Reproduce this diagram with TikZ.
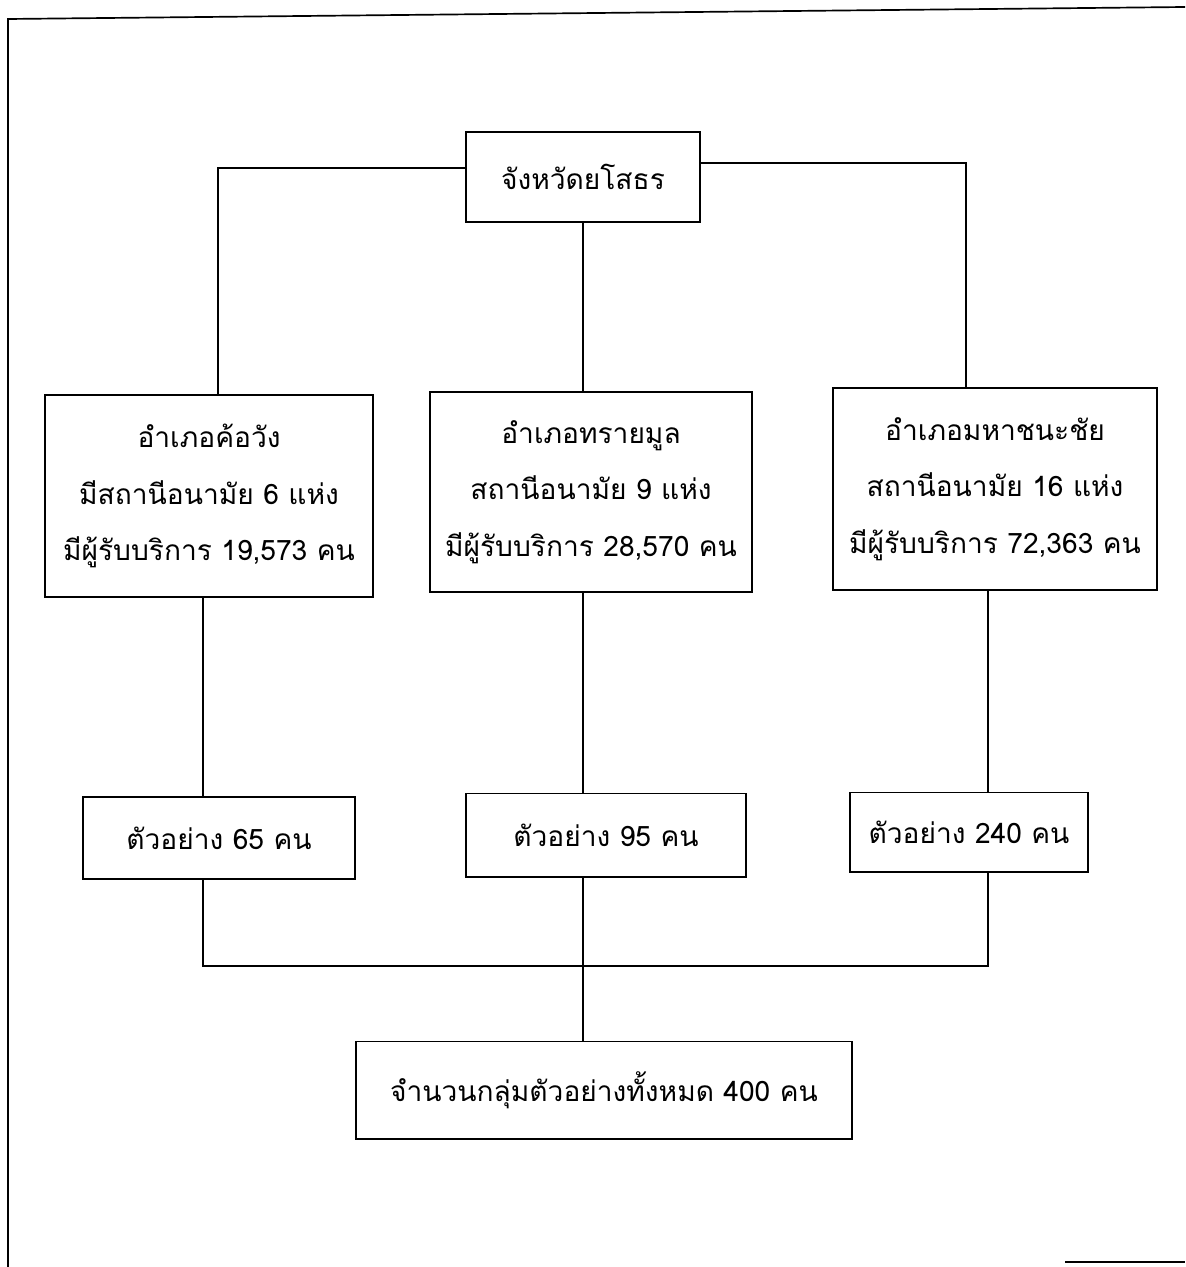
\documentclass[tikz,border=0pt]{standalone}
\usepackage{fontspec}
\newfontfamily\thaifont[Script=Thai]{Loma}
\usetikzlibrary{positioning}

\begin{document}
\begin{tikzpicture} [
						x=0.025cm, y=-0.025cm,
						font=\thaifont\fontsize{20}{40}\selectfont,
						box/.style={draw, line width=1.4pt, align=center, inner sep=0pt},
						link/.style={line width=1.1pt}
					]

\useasboundingbox (0,0) rectangle (1185,1267);

% page frame
\draw[line width=1.2pt] (1185,7) -- (8,19) -- (8,1267);
\draw[line width=1.2pt] (1065,1262) -- (1185,1262);

\node (prov) [box, minimum width=5.825cm, minimum height=2.25cm] at (583,177) {จังหวัดยโสธร};

\node (kw) [box, minimum width=8.2cm, minimum height=5.025cm] at (209,496) {อำเภอค้อวัง\\มีสถานีอนามัย 6 แห่ง\\มีผู้รับบริการ 19,573 คน};
\node (sm) [box, minimum width=8.05cm, minimum height=5.0cm] at (591,492) {อำเภอทรายมูล\\สถานีอนามัย 9 แห่ง\\มีผู้รับบริการ 28,570 คน};
\node (mh) [box, minimum width=8.1cm, minimum height=5.025cm] at (995,489) {อำเภอมหาชนะชัย\\สถานีอนามัย 16 แห่ง\\มีผู้รับบริการ 72,363 คน};

\node (s1) [box, minimum width=6.775cm, minimum height=2.05cm] at (219,838) {ตัวอย่าง 65 คน};
\node (s2) [box, minimum width=6.975cm, minimum height=2.075cm] at (606,835) {ตัวอย่าง 95 คน};
\node (s3) [box, minimum width=5.925cm, minimum height=1.975cm] at (969,832) {ตัวอย่าง 240 คน};

\node (tot) [box, minimum width=12.4cm, minimum height=2.425cm] at (604,1090) {จำนวนกลุ่มตัวอย่างทั้งหมด 400 คน};

\coordinate (t1) at (218,168);
\coordinate (t3) at (966,163);
\coordinate (b1) at (203,966);
\coordinate (b2) at (583,966);
\coordinate (b3) at (988,966);

\draw[link] (prov.west |- t1) -- (t1) -- (kw.north -| t1);
\draw[link] (prov.east |- t3) -- (t3) -- (mh.north -| t3);
\draw[link] (prov.south -| b2) -- (sm.north -| b2);

\draw[link] (kw.south -| b1) -- (s1.north -| b1);
\draw[link] (sm.south -| b2) -- (s2.north -| b2);
\draw[link] (mh.south -| b3) -- (s3.north -| b3);

\draw[link] (s1.south -| b1) -- (b1) -- (b3) -- (s3.south -| b3);
\draw[link] (s2.south -| b2) -- (tot.north -| b2);
\end{tikzpicture}
\end{document}
